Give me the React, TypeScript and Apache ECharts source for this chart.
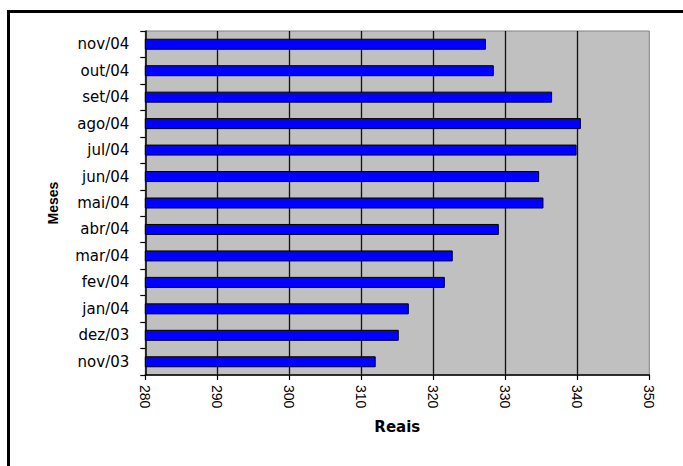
import React, { useEffect, useRef } from "react";
import * as echarts from "echarts";

const categories = [
  "nov/03", "dez/03", "jan/04", "fev/04", "mar/04", "abr/04",
  "mai/04", "jun/04", "jul/04", "ago/04", "set/04", "out/04", "nov/04",
];
const values = [312.0, 315.2, 316.6, 321.6, 322.7, 329.1, 335.3, 334.7, 339.9, 340.5, 336.5, 328.4, 327.3];
const xMin = 280;
const xMax = 350;
const xStep = 10;

export default function App() {
  const ref = useRef<HTMLDivElement>(null);
  useEffect(() => {
    document.body.style.margin = "0";
    const chart = echarts.init(ref.current!, undefined, { renderer: "svg" });
    chart.setOption({
      animation: false,
      backgroundColor: "#ffffff",
      grid: {
        left: 145.3,
        right: 33.7,
        top: 31,
        bottom: 91,
        show: true,
        backgroundColor: "#C0C0C0",
        borderColor: "#808080",
        borderWidth: 1,
      },
      xAxis: {
        type: "value",
        min: xMin,
        max: xMax,
        interval: xStep,
        name: "Reais",
        nameLocation: "middle",
        nameGap: 44,
        nameTextStyle: { fontFamily: "DejaVu Sans", fontWeight: "bold", fontSize: 15, color: "#000" },
        axisLine: { show: true, lineStyle: { color: "#000", width: 1.5 } },
        axisTick: { show: true, length: 5, lineStyle: { color: "#000", width: 1.2 } },
        axisLabel: {
          rotate: -90,
          margin: 10,
          color: "#000",
          fontFamily: "Liberation Sans",
          fontSize: 14,
        },
        splitLine: {
          show: true,
          showMinLine: false,
          showMaxLine: false,
          lineStyle: { color: "#111", width: 1.3 },
        },
      },
      yAxis: {
        type: "category",
        data: categories,
        name: "Meses",
        nameLocation: "middle",
        nameGap: 85,
        nameRotate: 90,
        nameTextStyle: { fontFamily: "Liberation Sans", fontWeight: "bold", fontSize: 14, color: "#000" },
        axisLine: { show: true, lineStyle: { color: "#000", width: 1.5 } },
        axisTick: { show: true, length: 5, alignWithLabel: false, lineStyle: { color: "#000", width: 1.2 } },
        axisLabel: {
          margin: 16,
          color: "#000",
          fontFamily: "DejaVu Sans",
          fontSize: 15,
          padding: [7, 0, 0, 0],
        },
        splitLine: { show: false },
      },
      series: [
        {
          type: "bar",
          data: values,
          barWidth: 11,
          itemStyle: { color: "#0000FF", borderColor: "#000", borderWidth: 1 },
        },
      ],
      graphic: [
        { type: "line", shape: { x1: 7, y1: 11.5, x2: 683, y2: 11.5 }, style: { stroke: "#000", lineWidth: 3 } },
        { type: "line", shape: { x1: 8.5, y1: 10, x2: 8.5, y2: 466 }, style: { stroke: "#000", lineWidth: 3 } },
      ],
    });
    return () => chart.dispose();
  }, []);
  return <div ref={ref} style={{ width: 683, height: 466 }} />;
}
